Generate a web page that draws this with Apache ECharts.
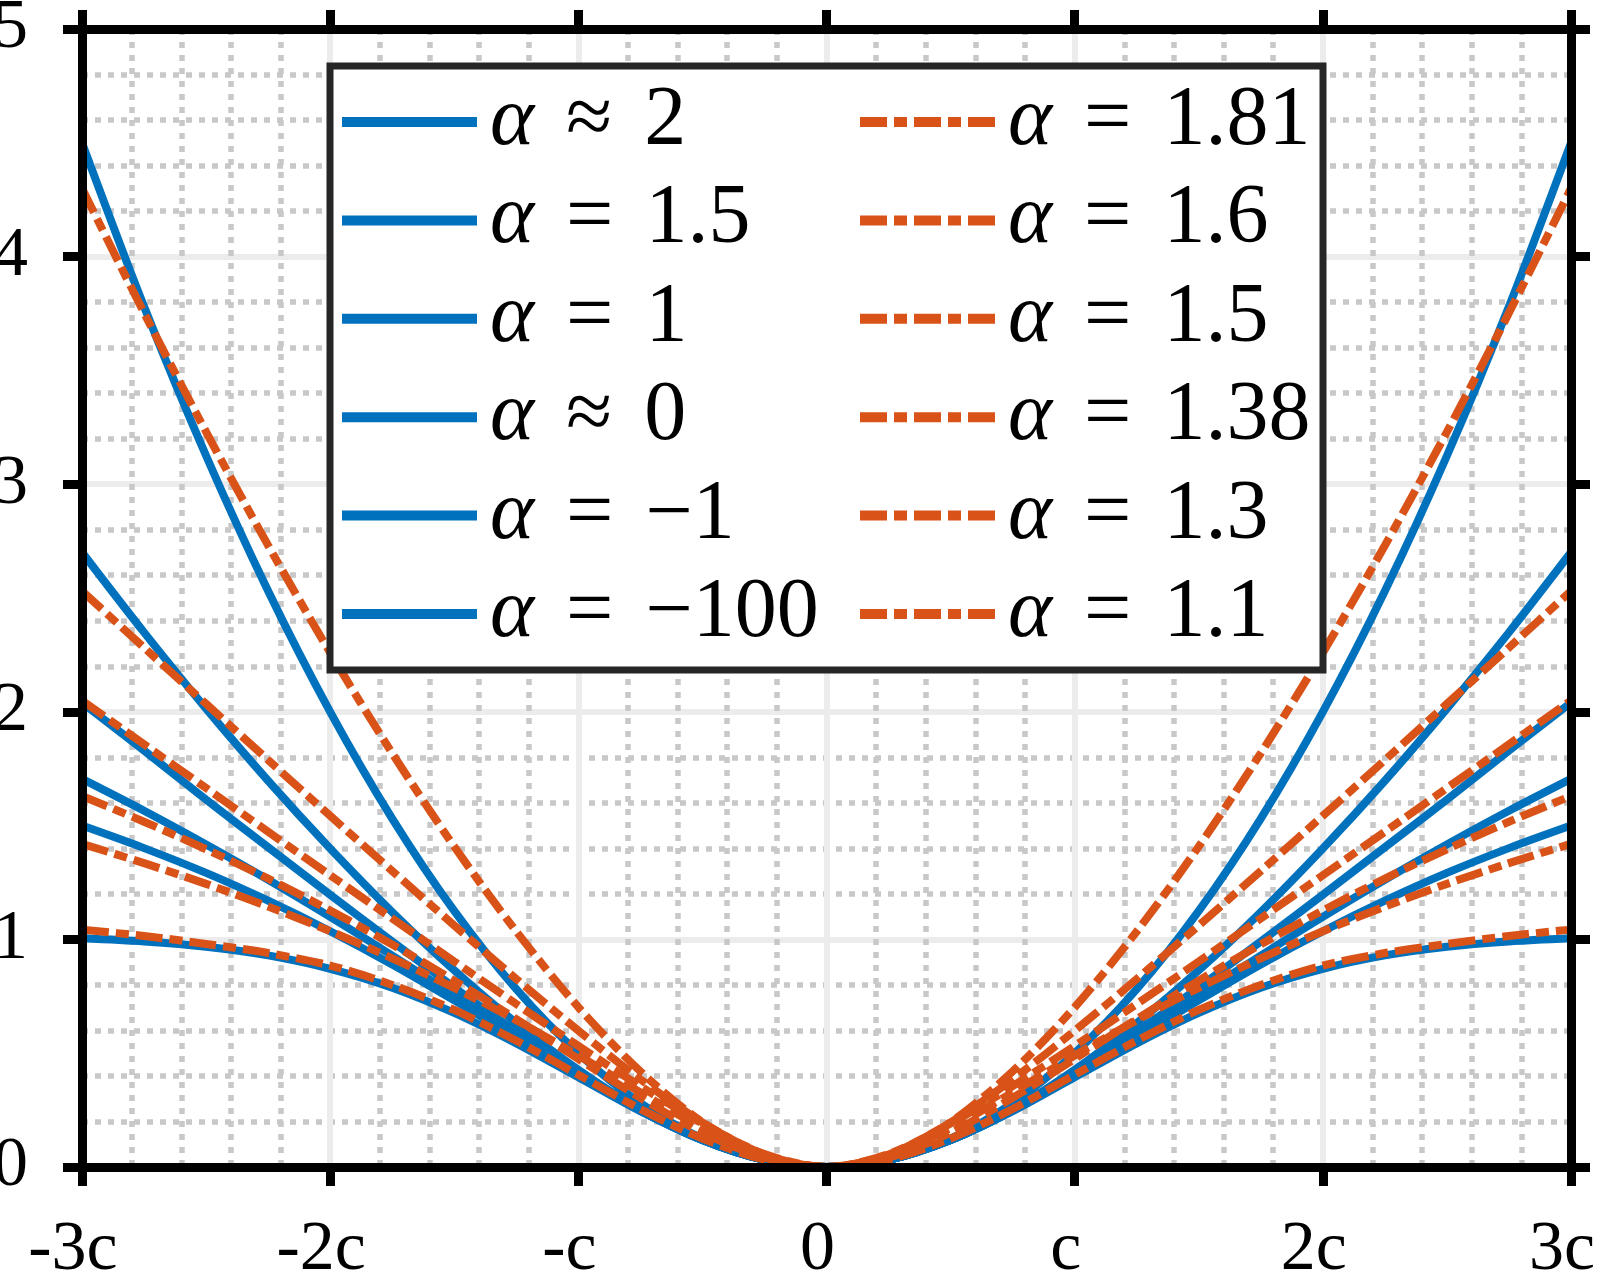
<!DOCTYPE html>
<html><head><meta charset="utf-8">
<script src="https://cdn.jsdelivr.net/npm/echarts@6/dist/echarts.min.js"></script>
<style>html,body{margin:0;padding:0;background:#fff}#c{width:1600px;height:1276px}</style>
</head><body><div id="c"></div>
<script>
// x positions in units of c
const xs = [-3,-2.75,-2.5,-2.25,-2,-1.75,-1.5,-1.25,-1,-0.75,-0.5,-0.25,0,0.25,0.5,0.75,1,1.25,1.5,1.75,2,2.25,2.5,2.75,3];
const xTickValues = [-3,-2,-1,0,1,2,3];
const xTickLabels = ['-3c','-2c','-c','0','c','2c','3c'];
const yTickLabels = ['0','1','2','3','4','5'];

const blueLabels = ['α ≈ 2','α = 1.5','α = 1','α ≈ 0','α = −1','α = −100'];
const orangeLabels = ['α = 1.81','α = 1.6','α = 1.5','α = 1.38','α = 1.3','α = 1.1'];

// blue (solid) curves
const blueA2   = [4.5,3.781,3.125,2.531,2.0,1.531,1.125,0.781,0.5,0.281,0.125,0.031,0,0.031,0.125,0.281,0.5,0.781,1.125,1.531,2.0,2.531,3.125,3.781,4.5];
const blueA15  = [2.701,2.349,2.014,1.697,1.399,1.120,0.864,0.632,0.427,0.253,0.119,0.031,0,0.031,0.119,0.253,0.427,0.632,0.864,1.120,1.399,1.697,2.014,2.349,2.701];
const blueA1   = [2.04,1.83,1.614,1.405,1.196,0.991,0.789,0.594,0.412,0.249,0.118,0.031,0,0.031,0.118,0.249,0.412,0.594,0.789,0.991,1.196,1.405,1.614,1.83,2.04];
const blueA0   = [1.705,1.565,1.417,1.262,1.099,0.929,0.754,0.577,0.406,0.248,0.118,0.031,0,0.031,0.118,0.248,0.406,0.577,0.754,0.929,1.099,1.262,1.417,1.565,1.705];
const blueAm1  = [1.5,1.401,1.292,1.170,1.036,0.890,0.732,0.567,0.402,0.247,0.118,0.031,0,0.031,0.118,0.247,0.402,0.567,0.732,0.890,1.036,1.170,1.292,1.401,1.5];
const blueAm100= [1.005,0.991,0.968,0.930,0.871,0.788,0.677,0.543,0.394,0.245,0.118,0.031,0,0.031,0.118,0.245,0.394,0.543,0.677,0.788,0.871,0.930,0.968,0.991,1.005];

// orange (dash-dot) curves
const orA181 = [4.30,3.753,3.230,2.731,2.260,1.818,1.408,1.035,0.702,0.420,0.197,0.051,0,0.051,0.197,0.420,0.702,1.035,1.408,1.818,2.260,2.731,3.230,3.753,4.30];
const orA16  = [2.531,2.282,2.035,1.788,1.543,1.301,1.061,0.826,0.599,0.385,0.196,0.055,0,0.055,0.196,0.385,0.599,0.826,1.061,1.301,1.543,1.788,2.035,2.282,2.531];
const orA15  = [2.050,1.857,1.665,1.473,1.282,1.092,0.903,0.716,0.532,0.355,0.191,0.057,0,0.057,0.191,0.355,0.532,0.716,0.903,1.092,1.282,1.473,1.665,1.857,2.050];
const orA138 = [1.630,1.517,1.396,1.267,1.127,0.978,0.819,0.650,0.475,0.304,0.151,0.041,0,0.041,0.151,0.304,0.475,0.650,0.819,0.978,1.127,1.267,1.396,1.517,1.630];
const orA13  = [1.420,1.335,1.244,1.144,1.036,0.917,0.787,0.645,0.490,0.328,0.171,0.048,0,0.048,0.171,0.328,0.490,0.645,0.787,0.917,1.036,1.144,1.244,1.335,1.420];
const orA11  = [1.043,1.015,0.980,0.940,0.885,0.800,0.690,0.555,0.405,0.255,0.125,0.033,0,0.033,0.125,0.255,0.405,0.555,0.690,0.800,0.885,0.940,0.980,1.015,1.043];

const blueSeries = [blueA2, blueA15, blueA1, blueA0, blueAm1, blueAm100];
const orangeSeries = [orA181, orA16, orA15, orA138, orA13, orA11];

const BLUE = '#0072BD', ORANGE = '#D95319';
const SERIF = 'Liberation Serif';

const labelOf = {};
blueLabels.forEach((l, i) => labelOf['b' + i] = l);
orangeLabels.forEach((l, i) => labelOf['o' + i] = l);

function legendFmt(name) {
  const p = labelOf[name].split(' ');
  return '{a|' + p[0] + '}{r|' + p[1] + '}{n|' + p[2] + '}';
}
const rich = {
  a: { fontFamily: SERIF, fontStyle: 'italic', fontSize: 84, lineHeight: 80, color: '#000', padding: [0, 0, 0, 8] },
  r: { fontFamily: SERIF, fontSize: 84, lineHeight: 80, color: '#000', padding: [0, 32, 0, 32] },
  n: { fontFamily: SERIF, fontSize: 84, lineHeight: 80, color: '#000' }
};

const series = [];
blueSeries.forEach((arr, i) => series.push({
  type: 'line', name: 'b' + i, xAxisIndex: 0, yAxisIndex: 0,
  data: xs.map((x, k) => [x, arr[k]]),
  symbol: 'none', showSymbol: false, smooth: 0.3, color: BLUE, z: 2,
  lineStyle: { color: BLUE, width: 8, type: 'solid', cap: 'butt' }
}));
orangeSeries.forEach((arr, i) => series.push({
  type: 'line', name: 'o' + i, xAxisIndex: 0, yAxisIndex: 0,
  data: xs.map((x, k) => [x, arr[k]]),
  symbol: 'none', showSymbol: false, smooth: 0.3, color: ORANGE, z: 2,
  lineStyle: { color: ORANGE, width: 8, type: [27, 7, 13, 7], cap: 'butt' }
}));

const gridBox = { left: 82, right: 29, top: 29, bottom: 109, outerBoundsMode: 'none', containLabel: false };
const minorSplit = { show: true, lineStyle: { color: '#c8c8c8', width: 5.5, type: [6, 7] } };
const majorSplit = { show: true, lineStyle: { color: '#ececec', width: 6 } };
const axLine = { show: true, onZero: false, lineStyle: { color: '#000', width: 9 } };
const axTick = { show: true, inside: false, length: 19, lineStyle: { color: '#000', width: 9 } };

const legendCommon = {
  orient: 'vertical', top: 80, padding: 0, itemWidth: 135, itemHeight: 14, itemGap: 14.4,
  selectedMode: false, z: 5, formatter: legendFmt,
  textStyle: { rich: rich, color: '#000', fontFamily: SERIF },
  itemStyle: { opacity: 0, borderWidth: 0 },
  lineStyle: { width: 10 }
};

const option = {
  animation: false,
  backgroundColor: '#fff',
  grid: [Object.assign({}, gridBox), Object.assign({}, gridBox)],
  xAxis: [
    { gridIndex: 0, type: 'value', min: -3, max: 3, interval: 1, position: 'bottom',
      axisLine: { show: false }, axisTick: { show: false }, axisLabel: { show: false },
      splitLine: majorSplit, minorTick: { show: false, splitNumber: 5 }, minorSplitLine: minorSplit },
    { gridIndex: 1, type: 'value', min: -3, max: 3, interval: 1, position: 'bottom', z: 4,
      axisLine: axLine, axisTick: axTick, splitLine: { show: false },
      axisLabel: { show: true, margin: 49, fontFamily: SERIF, fontSize: 70, color: '#000',
        padding: [0, 18, 0, 0],
        formatter: v => { const i = xTickValues.indexOf(v); return i >= 0 ? xTickLabels[i] : ''; } } },
    { gridIndex: 1, type: 'value', min: -3, max: 3, interval: 1, position: 'top', z: 4,
      axisLine: axLine, axisTick: axTick, splitLine: { show: false }, axisLabel: { show: false } }
  ],
  yAxis: [
    { gridIndex: 0, type: 'value', min: 0, max: 5, interval: 1, position: 'left',
      axisLine: { show: false }, axisTick: { show: false }, axisLabel: { show: false },
      splitLine: majorSplit, minorTick: { show: false, splitNumber: 5 }, minorSplitLine: minorSplit },
    { gridIndex: 1, type: 'value', min: 0, max: 5, interval: 1, position: 'left', z: 4,
      axisLine: axLine, axisTick: axTick, splitLine: { show: false },
      axisLabel: { show: true, margin: 54, fontFamily: SERIF, fontSize: 70, color: '#000',
        formatter: v => yTickLabels[Math.round(v)] } },
    { gridIndex: 1, type: 'value', min: 0, max: 5, interval: 1, position: 'right', z: 4,
      axisLine: axLine, axisTick: axTick, splitLine: { show: false }, axisLabel: { show: false } }
  ],
  graphic: [
    { type: 'rect', z: 3, shape: { x: 330, y: 66, width: 993, height: 604 },
      style: { fill: '#fff', stroke: '#262626', lineWidth: 7 } }
  ],
  legend: [
    Object.assign({}, legendCommon, { left: 337, data: blueLabels.map((l, i) => 'b' + i) }),
    Object.assign({}, legendCommon, { left: 855, data: orangeLabels.map((l, i) => 'o' + i) })
  ],
  series: series
};

const chart = echarts.init(document.getElementById('c'), null, { renderer: 'canvas' });
chart.setOption(option);
</script>
</body></html>
